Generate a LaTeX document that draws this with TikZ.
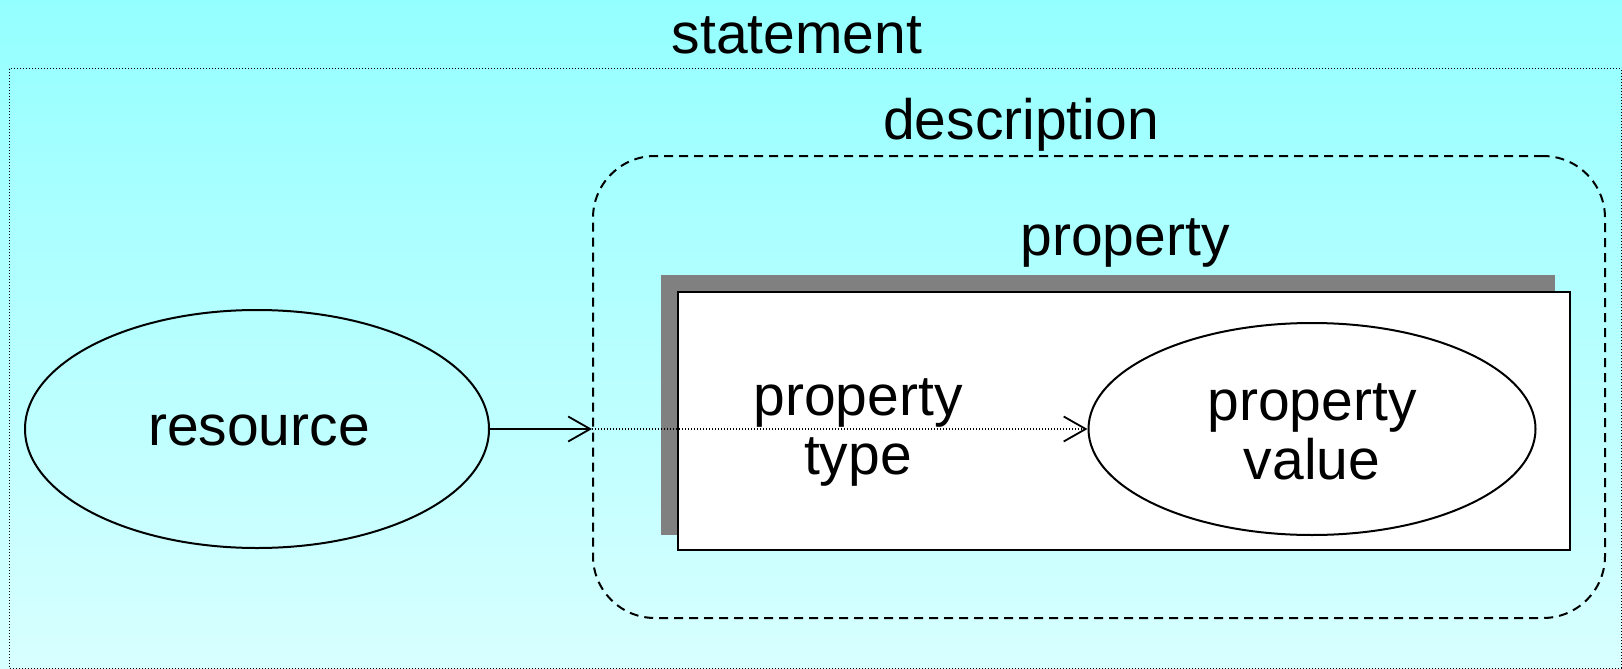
\documentclass[tikz,border=0pt]{standalone}
\usepackage{fontspec}
\setmainfont{Liberation Sans}
\usetikzlibrary{shapes.geometric,arrows.meta}
\definecolor{bgtop}{RGB}{148,255,255}
\definecolor{bgbot}{RGB}{216,255,255}
\definecolor{shadowgray}{RGB}{128,128,128}
\tikzset{
  lbl/.style={font=\fontsize{57}{59}\selectfont, inner sep=0pt},
  oval/.style={ellipse, draw=black, line width=2pt, inner sep=0pt},
  arr/.style={line width=1.8pt, -{Straight Barb[length=22pt,width=25pt,line width=1.8pt]}},
}
\begin{document}
\begin{tikzpicture}[x=1pt,y=-1pt]
\useasboundingbox (0,0) rectangle (1622,669);
\shade[top color=bgtop, bottom color=bgbot] (0,0) rectangle (1622,669);
% statement frame
\draw[line width=1pt, dash pattern=on 1pt off 2pt] (9,69) rectangle (1621,668);
\node[lbl, anchor=base] (stmt) at (797,53) {statement};
% description frame
\node[draw=black, line width=2pt, dash pattern=on 9pt off 6pt, rounded corners=62pt,
      minimum width=1012pt, minimum height=462pt, inner sep=0pt] (desc) at (1099,387) {};
\node[lbl, anchor=base] (desclbl) at (1021,139) {description};
% property box
\node[lbl, anchor=base] (proplbl) at (1125,255) {property};
\node[fill=shadowgray, minimum width=894pt, minimum height=260pt, inner sep=0pt] (shadow) at (1108,405) {};
\node[fill=white, draw=black, line width=2pt, minimum width=892pt, minimum height=258pt, inner sep=0pt] (prop) at (1124,421) {};
% nodes
\node[oval, minimum width=464pt, minimum height=238pt] (res) at (257,429) {};
\node[lbl, anchor=base] (restxt) at (259,445) {resource};
\node[oval, fill=white, minimum width=447pt, minimum height=212pt] (pv) at (1312,429) {};
\node[lbl, align=center] (pvtxt) at (1312,432) {property\\value};
\node[lbl, align=center] (pttxt) at (858,432) {property\\type};
% connectors
\coordinate (entry) at (res.east -| desc.west);
\draw[arr] (res.east) -- (entry);
\draw[arr, dash pattern=on 1.2pt off 1.8pt, line width=1.5pt] (entry) -- (pv.west);
\end{tikzpicture}
\end{document}
